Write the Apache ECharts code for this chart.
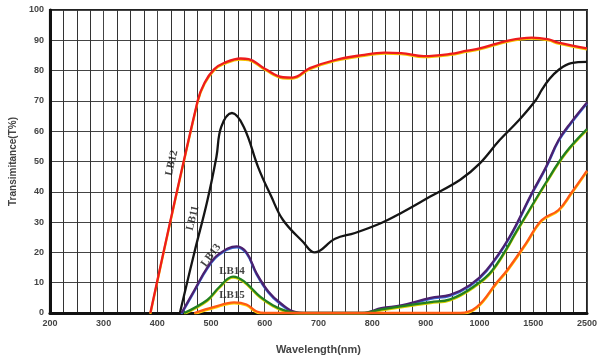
<!DOCTYPE html>
<html>
<head>
<meta charset="utf-8">
<script src="https://cdn.jsdelivr.net/npm/echarts@6/dist/echarts.min.js"></script>
<style>html,body{margin:0;padding:0;background:#fff;}#c{width:600px;height:363px;}</style>
</head>
<body>
<div id="c"></div>
<script>
// Tick labels and their wavelengths (axis is piecewise: 100 nm steps to 1000, then 1500, 2500)
const xTickLabels = ['200','300','400','500','600','700','800','900','1000','1500','2500'];
const xBreaks = [200,300,400,500,600,700,800,900,1000,1500,2500];
const yTicks = [0,10,20,30,40,50,60,70,80,90,100];

// LB12 (red)
const lb12Wave = [387,475,488,506,524,555,570,601,634,652,684,731,781,823,854,896,945,977,1000,1277,1487,1786,1969,2500];
const lb12T    = [0,  70, 76, 80.5,82.5,84,83.8,80.5,77.8,77.7,80.8,83.5,85.1,85.9,85.8,84.8,85.5,86.6,87.3,90,90.9,90.3,89.2,87.3];
// LB11 (black)
const lb11Wave = [442,469,493,510,519,539,561,588,612,634,671,693,731,768,817,854,909,964,1000,1185,1368,1548,1658,1786,1969,2207,2500];
const lb11T    = [0,  20, 37, 51.5,61.4,66,61.4,48,38.5,30.7,23.5,20,24.5,26.4,29.7,33,38.5,44,49.3,57,63.7,70.3,73.6,76.9,80.2,82.5,82.9];
// LB13 (purple)
const lb13Wave = [445,469,493,515,548,566,585,607,629,658,689,781,793,817,854,909,945,982,1066,1277,1487,1731,1969,2207,2500];
const lb13T    = [0,  7.5,15, 19.5,22, 20, 13, 7,  3.3,0.3,0,  0,  0.3,1.6,2.5,5,  6,  9.2,14.2,25,39.6,48, 57, 63, 69.5];
// LB14 (green)
const lb14Wave = [450,493,515,541,561,592,616,634,662,781,817,854,909,945,988,1121,1368,1731,2097,2500];
const lb14T    = [0,  4.3,8.5,12, 10.5,5.3,2.5,1,  0,  0,  1.2,2.2,3.6,4.5,8.6,14.2,28.4,42.9,52.8,60.7];
// LB15 (orange)
const lb15Wave = [469,506,543,566,585,601,964,995,1158,1258,1432,1658,1969,2207,2500];
const lb15T    = [0,  2,  3.5,2.8,0.5,0,  0,  2,  10,  14.2,23,  30.7,34, 39.6,47];

// Curve name labels: name, wavelength, value, rotation
const tagNames = ['LB12','LB11','LB13','LB14','LB15'];
const tagWave  = [427, 466, 500, 539, 539];
const tagT     = [49.5, 31.3, 19, 13.9, 6];
const tagRot   = [77, 76, 54, 0, 0];

function toAxis(w){
  for (let i = 0; i < xBreaks.length - 1; i++) {
    if (w <= xBreaks[i+1]) return i + (w - xBreaks[i]) / (xBreaks[i+1] - xBreaks[i]);
  }
  return xBreaks.length - 1;
}
function pairs(ws, ts){ return ws.map((w,i)=>[toAxis(w), ts[i]]); }

const chart = echarts.init(document.getElementById('c'), null, {renderer:'canvas'});
function lineSeries(name, ws, ts, color, shadow){
  return {
    name, type:'line', data: pairs(ws, ts), smooth: 0.4,
    showSymbol:false, symbol:'none', animation:false, z: 3,
    lineStyle:{color, width:2.3, shadowColor: shadow || 'transparent', shadowBlur:0, shadowOffsetY: shadow ? 1 : 0}
  };
}
const option = {
  animation:false,
  backgroundColor:'#fff',
  grid:{left:43, top:10, right:11, bottom:50, show:true, borderColor:'#222', borderWidth:2, backgroundColor:'transparent'},
  xAxis:{
    type:'value', min:0, max:10, interval:1,
    axisLine:{show:true, onZero:false, lineStyle:{color:'#111', width:3}},
    axisTick:{show:false},
    axisLabel:{formatter:(v)=>xTickLabels[Math.round(v)] || '', color:'#444', fontSize:9, fontWeight:'bold', fontFamily:'Liberation Sans, Arial', margin:6},
    splitLine:{show:true, lineStyle:{color:'#444', width:1}},
    minorTick:{show:false, splitNumber:4},
    minorSplitLine:{show:true, lineStyle:{color:'#333', width:1}},
    name:'Wavelength(nm)', nameLocation:'middle', nameGap:31,
    nameTextStyle:{color:'#444', fontSize:11, fontWeight:'bold', fontFamily:'Liberation Sans, Arial'}
  },
  yAxis:{
    type:'value', min:yTicks[0], max:yTicks[yTicks.length-1], interval:10,
    axisLine:{show:true, lineStyle:{color:'#111', width:3}},
    axisTick:{show:false},
    axisLabel:{color:'#444', fontSize:9, fontWeight:'bold', fontFamily:'Liberation Sans, Arial', margin:6},
    splitLine:{show:true, lineStyle:{color:'#444', width:1}},
    name:'Transimitance(T%)', nameLocation:'middle', nameGap:25,
    nameTextStyle:{color:'#444', fontSize:10, fontWeight:'bold', fontFamily:'Liberation Sans, Arial'}
  },
  series:[
    lineSeries('LB12', lb12Wave, lb12T, '#ee1c1c', '#f5c400'),
    lineSeries('LB11', lb11Wave, lb11T, '#151515'),
    lineSeries('LB13', lb13Wave, lb13T, '#4b2170', '#3a6fd8'),
    lineSeries('LB14', lb14Wave, lb14T, '#23801f', '#d8d400'),
    lineSeries('LB15', lb15Wave, lb15T, '#ff5a12', '#ffd000'),
    {
      type:'scatter', symbolSize:0, z:5, animation:false, silent:true,
      data: tagNames.map((n,i)=>({value:[toAxis(tagWave[i]), tagT[i]], name:n,
        label:{show:true, position:'inside', formatter:n, rotate:tagRot[i],
          color:'#111', fontSize:11, fontWeight:'bold', fontFamily:'Liberation Serif, Times New Roman, serif'}}))
    }
  ]
};
chart.setOption(option);
</script>
</body>
</html>
